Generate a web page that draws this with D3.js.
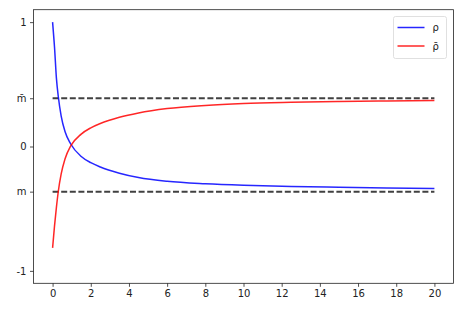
<!DOCTYPE html>
<html lang="en">
<head>
<meta charset="utf-8">
<title>rho vs rho bar</title>
<script src="https://d3js.org/d3.v7.min.js"></script>
<style>
  body { margin: 0; background: #fff; }
  text { font-family: "DejaVu Sans", sans-serif; }
</style>
</head>
<body>
<script>
// values
const xs      = [0, 0.1, 0.2, 0.3, 0.45, 0.65, 0.95, 1.5, 2, 2.5, 3.5, 4.5, 6, 8, 10, 12.5, 15, 17.5, 20];
const rho     = [1.0, 0.80, 0.55, 0.40, 0.245, 0.12, 0.02, -0.08, -0.13, -0.165, -0.215, -0.25, -0.28, -0.30, -0.312, -0.321, -0.328, -0.333, -0.337];
const rhoBar  = [-0.815, -0.64, -0.49, -0.36, -0.22, -0.10, 0.005, 0.10, 0.15, 0.185, 0.235, 0.27, 0.305, 0.33, 0.345, 0.355, 0.362, 0.366, 0.369];
const mVal    = -0.363;
const mBarVal = 0.388;
const xTicks  = d3.range(0, 21, 2);
const yTicks  = [1, mBarVal, 0, mVal, -1];
const yTickLabels = ["1", "m\u0304", "0", "m", "-1"];
const seriesNames = ["\u03c1", "\u03c1\u0304"];
const seriesColors = ["#0000ff", "#ff0000"];

const width = 472, height = 310;
const padL = 33.5, padR = 453.5, padT = 9.7, padB = 283.3;

const svg = d3.select("body").append("svg")
  .attr("width", width)
  .attr("height", height);

const x = d3.scaleLinear().domain([-1, 21]).range([padL, padR]);
const y = d3.scaleLinear().domain([-1.1, 1.1]).range([padB, padT]);

// axes
const xAxis = d3.axisBottom(x).tickValues(xTicks).tickSize(3.5).tickPadding(3.5).tickFormat(d3.format("d"));
const yAxis = d3.axisLeft(y).tickValues(yTicks).tickSize(3.5).tickPadding(3.5)
  .tickFormat((d, i) => yTickLabels[i]);

const gx = svg.append("g").attr("transform", "translate(0," + padB + ")").call(xAxis);
const gy = svg.append("g").attr("transform", "translate(" + padL + ",0)").call(yAxis);
[gx, gy].forEach(g => {
  g.select(".domain").remove();
  g.selectAll(".tick line").attr("stroke", "#222").attr("stroke-width", 0.8);
  g.selectAll(".tick text").attr("fill", "#222").attr("font-size", 10)
    .attr("font-family", "'DejaVu Sans', sans-serif");
});

// dashed reference lines
[mBarVal, mVal].forEach(v => {
  svg.append("line")
    .attr("x1", x(0)).attr("x2", x(20))
    .attr("y1", y(v)).attr("y2", y(v))
    .attr("stroke", "#000")
    .attr("stroke-opacity", 0.75)
    .attr("stroke-width", 2)
    .attr("stroke-dasharray", "6,2.6");
});

// curves
const line = d3.line()
  .x(d => x(d[0]))
  .y(d => y(d[1]))
  .curve(d3.curveMonotoneX);

[rho, rhoBar].forEach((vals, i) => {
  svg.append("path")
    .datum(xs.map((xv, j) => [xv, vals[j]]))
    .attr("fill", "none")
    .attr("stroke", seriesColors[i])
    .attr("stroke-opacity", 0.85)
    .attr("stroke-width", 1.5)
    .attr("d", line);
});

// frame
svg.append("rect")
  .attr("x", padL).attr("y", padT)
  .attr("width", padR - padL).attr("height", padB - padT)
  .attr("fill", "none")
  .attr("stroke", "#222")
  .attr("stroke-width", 0.8);

// legend
const lg = svg.append("g").attr("transform", "translate(393.5,16.5)");
lg.append("rect")
  .attr("width", 53).attr("height", 42).attr("rx", 2)
  .attr("fill", "#fff").attr("fill-opacity", 0.8)
  .attr("stroke", "#d8d8d8").attr("stroke-width", 0.8);
seriesNames.forEach((name, i) => {
  const yy = 11 + i * 18.5;
  lg.append("line")
    .attr("x1", 4).attr("x2", 31)
    .attr("y1", yy).attr("y2", yy)
    .attr("stroke", seriesColors[i])
    .attr("stroke-opacity", 0.85)
    .attr("stroke-width", 1.5);
  lg.append("text")
    .attr("x", 39).attr("y", yy + 3.5)
    .attr("font-size", 10)
    .attr("fill", "#222")
    .text(name);
});
</script>
</body>
</html>
